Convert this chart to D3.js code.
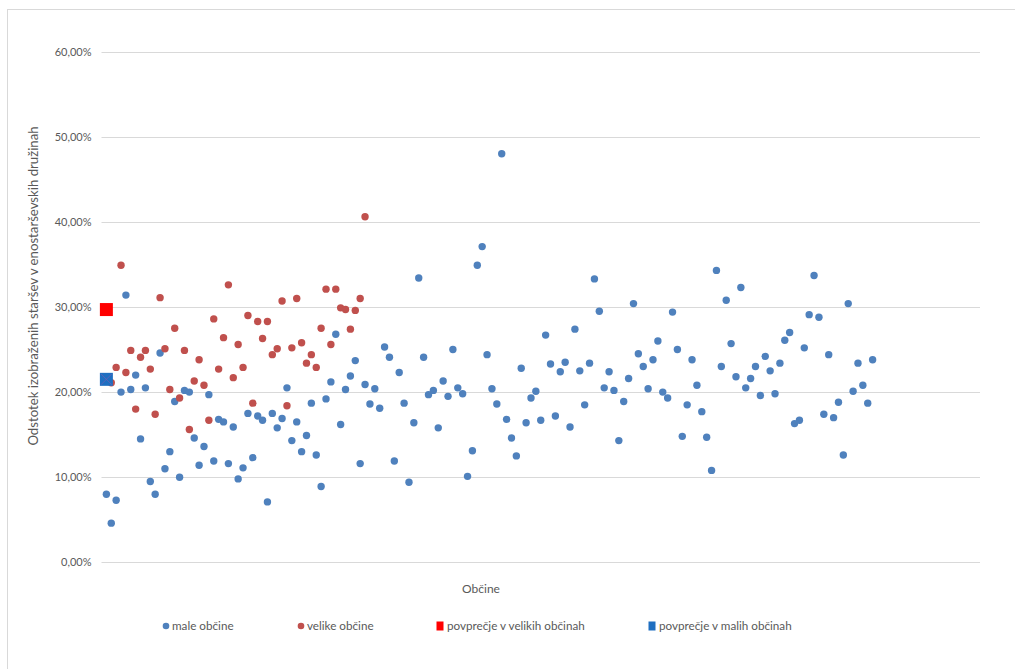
<!DOCTYPE html>
<html>
<head>
<meta charset="utf-8">
<script src="https://cdn.jsdelivr.net/npm/d3@7"></script>
<style>
  html, body { margin: 0; padding: 0; background: #ffffff; }
  svg { display: block; }
  text { font-family: Lato, "Open Sans", sans-serif; fill: #595959; }
</style>
</head>
<body>
<svg id="chart" width="1015" height="669"></svg>
<script>
// ---- data (values as fractions; x = position in list, 1-based) ----
const maleObcine = [
  0.080, 0.046, 0.073, 0.200, 0.314, 0.203, 0.220, 0.145, 0.205, 0.095,
  0.080, 0.246, 0.110, 0.130, 0.189, 0.100, 0.202, 0.200, 0.146, 0.114,
  0.136, 0.197, 0.119, 0.168, 0.165, 0.116, 0.159, 0.098, 0.111, 0.175,
  0.123, 0.172, 0.167, 0.071, 0.175, 0.158, 0.169, 0.205, 0.143, 0.165,
  0.130, 0.149, 0.187, 0.126, 0.089, 0.192, 0.212, 0.268, 0.162, 0.203,
  0.219, 0.237, 0.116, 0.209, 0.186, 0.204, 0.181, 0.253, 0.241, 0.119,
  0.223, 0.187, 0.094, 0.164, 0.334, 0.241, 0.197, 0.202, 0.158, 0.213,
  0.195, 0.250, 0.205, 0.198, 0.101, 0.131, 0.349, 0.371, 0.244, 0.204,
  0.186, 0.480, 0.168, 0.146, 0.125, 0.228, 0.164, 0.193, 0.201, 0.167,
  0.267, 0.233, 0.172, 0.224, 0.235, 0.159, 0.274, 0.225, 0.185, 0.234,
  0.333, 0.295, 0.205, 0.224, 0.202, 0.143, 0.189, 0.216, 0.304, 0.245,
  0.230, 0.204, 0.238, 0.260, 0.200, 0.193, 0.294, 0.250, 0.148, 0.185,
  0.238, 0.208, 0.177, 0.147, 0.108, 0.343, 0.230, 0.308, 0.257, 0.218,
  0.323, 0.205, 0.216, 0.230, 0.196, 0.242, 0.225, 0.198, 0.234, 0.261,
  0.270, 0.163, 0.167, 0.252, 0.291, 0.337, 0.288, 0.174, 0.244, 0.170,
  0.188, 0.126, 0.304, 0.201, 0.234, 0.208, 0.187, 0.238
];
const velikeObcine = [
  0.297, 0.211, 0.229, 0.349, 0.223, 0.249, 0.180, 0.241, 0.249, 0.227,
  0.174, 0.311, 0.251, 0.203, 0.275, 0.193, 0.249, 0.156, 0.213, 0.238,
  0.208, 0.167, 0.286, 0.227, 0.264, 0.326, 0.217, 0.256, 0.229, 0.290,
  0.187, 0.283, 0.263, 0.283, 0.244, 0.251, 0.307, 0.184, 0.252, 0.310,
  0.258, 0.234, 0.244, 0.229, 0.275, 0.321, 0.256, 0.321, 0.299, 0.297,
  0.274, 0.296, 0.310, 0.406
];
const avgVelike = [{ x: 1, v: 0.297 }];
const avgMale = [{ x: 1, v: 0.215 }];
const yTicks = [0, 0.1, 0.2, 0.3, 0.4, 0.5, 0.6];
const legendLabels = ["male občine", "velike občine", "povprečje v velikih občinah", "povprečje v malih občinah"];
const yTitle = "Odstotek izobraženih staršev v enostarševskih družinah";
const xTitle = "Občine";

// ---- drawing ----
const svg = d3.select("#chart");
const colBlue = "#4F81BD", colRed = "#C0504D", colSqRed = "#FF0000", colSqBlue = "#1F6FC1";

// outer chart border
svg.append("rect").attr("x", 7.5).attr("y", 9.5).attr("width", 1100).attr("height", 700)
  .attr("fill", "none").attr("stroke", "#d9d9d9").attr("stroke-width", 1);

const x = d3.scaleLinear().domain([0, 180]).range([101.5, 980]);
const y = d3.scaleLinear().domain([0, 0.6]).range([562.3, 51.7]);

const loc = d3.formatLocale({ decimal: ",", thousands: ".", grouping: [3], currency: ["", "€"], percent: "%" });
const fmt = loc.format(".2%");

// gridlines
svg.append("g").selectAll("line").data(yTicks).join("line")
  .attr("x1", x(0)).attr("x2", x(180))
  .attr("y1", d => Math.round(y(d)) + 0.5).attr("y2", d => Math.round(y(d)) + 0.5)
  .attr("stroke", "#d9d9d9").attr("stroke-width", 1);

// y axis tick labels via d3 axis
const yAxis = d3.axisLeft(y).tickValues(yTicks).tickFormat(fmt).tickSize(0).tickPadding(10);
const gy = svg.append("g").attr("transform", `translate(${x(0)},0)`).call(yAxis);
gy.select(".domain").remove();
gy.selectAll("text").style("font-family", "Lato, 'Open Sans', sans-serif")
  .style("font-size", "11px").attr("fill", "#595959");

// axis titles
svg.append("text").attr("transform", "translate(37.5,286) rotate(-90)")
  .attr("text-anchor", "middle").style("font-size", "13.2px").text(yTitle);
svg.append("text").attr("x", 481).attr("y", 593)
  .attr("text-anchor", "middle").style("font-size", "12px").text(xTitle);

// series
const r = 3.7;
svg.append("g").selectAll("circle").data(maleObcine).join("circle")
  .attr("cx", (d, i) => x(i + 1)).attr("cy", d => y(d)).attr("r", r).attr("fill", colBlue);
svg.append("g").selectAll("circle").data(velikeObcine).join("circle")
  .attr("cx", (d, i) => x(i + 1)).attr("cy", d => y(d)).attr("r", r).attr("fill", colRed);

// averages
const sq = 13;
svg.append("g").selectAll("rect").data(avgVelike).join("rect")
  .attr("x", d => x(d.x) - sq / 2).attr("y", d => y(d.v) - sq / 2)
  .attr("width", sq).attr("height", sq).attr("fill", colSqRed);
const gm = svg.append("g").selectAll("g").data(avgMale).join("g")
  .attr("transform", d => `translate(${x(d.x)},${y(d.v)})`);
gm.append("rect").attr("x", -sq / 2).attr("y", -sq / 2).attr("width", sq).attr("height", sq).attr("fill", colSqBlue);
gm.append("path").attr("d", `M${-sq/2+1},${-sq/2+1}L${sq/2-1},${sq/2-1}M${sq/2-1},${-sq/2+1}L${-sq/2+1},${sq/2-1}`)
  .attr("stroke", "#6a5fb5").attr("stroke-width", 0.8);

// legend
const legY = 626;
const legX = [166, 301, 440, 652];
const lg = svg.append("g");
lg.append("circle").attr("cx", legX[0]).attr("cy", legY).attr("r", 3.3).attr("fill", colBlue);
lg.append("circle").attr("cx", legX[1]).attr("cy", legY).attr("r", 3.3).attr("fill", colRed);
lg.append("rect").attr("x", legX[2] - 3.5).attr("y", legY - 4.5).attr("width", 7).attr("height", 9).attr("fill", colSqRed);
lg.append("rect").attr("x", legX[3] - 3.5).attr("y", legY - 4.5).attr("width", 7).attr("height", 9).attr("fill", colSqBlue);
lg.selectAll("text").data(legendLabels).join("text")
  .attr("x", (d, i) => legX[i] + (i < 2 ? 6 : 7)).attr("y", legY).attr("dy", "0.35em")
  .style("font-size", "11.7px").text(d => d);
</script>
</body>
</html>
